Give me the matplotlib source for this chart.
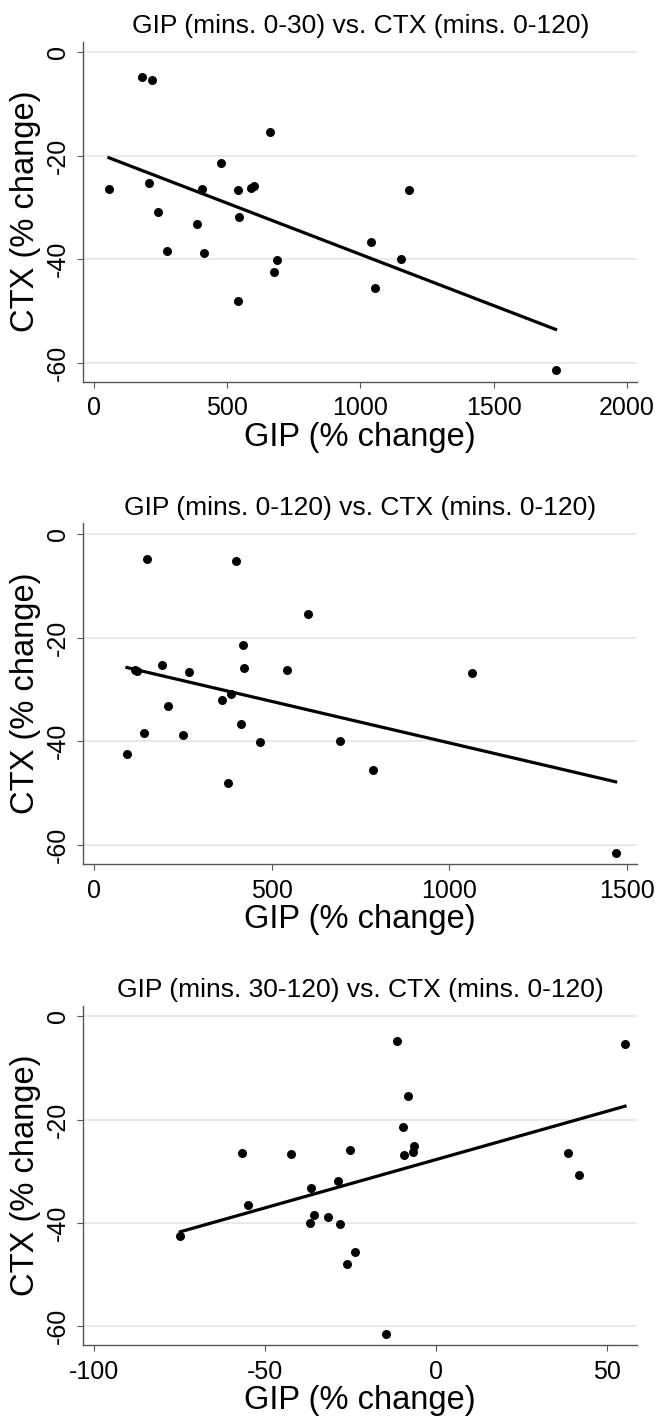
import numpy as np
import matplotlib
matplotlib.use("Agg")
import matplotlib.pyplot as plt

plt.rcParams['font.family'] = ['Liberation Sans', 'DejaVu Sans']
plt.rcParams['axes.unicode_minus'] = False

# CTX (% change) vs GIP (% change), three GIP windows
gip_0_30 = [55, 179, 218, 207, 239, 272, 384, 403, 413, 475, 540, 544, 541,
            587, 600, 661, 674, 687, 1040, 1055, 1153, 1184, 1733]
ctx_a = [-26.4, -4.8, -5.3, -25.3, -30.8, -38.5, -33.2, -26.4, -38.8, -21.4,
         -26.6, -31.9, -48.0, -26.3, -25.9, -15.4, -42.4, -40.2, -36.6, -45.5,
         -39.9, -26.7, -61.5]

gip_0_120 = [149, 398, 601, 419, 190, 114, 120, 268, 423, 542, 1065, 384, 360,
             208, 413, 139, 250, 466, 692, 92, 784, 377, 1469]
ctx_b = [-4.8, -5.3, -15.4, -21.5, -25.2, -26.3, -26.5, -26.6, -25.9, -26.2,
         -26.8, -30.8, -32.0, -33.2, -36.7, -38.5, -38.8, -40.2, -39.9, -42.4,
         -45.6, -48.0, -61.5]

gip_30_120 = [-11.3, 55.4, -8.1, -9.7, -56.7, -42.4, -25.2, -9.4, -6.7, -6.4,
              38.6, 42.0, -28.6, -36.4, -54.9, -35.7, -31.6, -36.8, -28.1,
              -74.8, -23.6, -26.0, -14.6]
ctx_c = [-4.8, -5.4, -15.4, -21.5, -26.5, -26.6, -25.9, -26.8, -26.3, -25.2,
         -26.5, -30.8, -31.9, -33.3, -36.6, -38.5, -38.8, -40.0, -40.3, -42.5,
         -45.6, -48.0, -61.6]

titles = ["GIP (mins. 0-30) vs. CTX (mins. 0-120)",
          "GIP (mins. 0-120) vs. CTX (mins. 0-120)",
          "GIP (mins. 30-120) vs. CTX (mins. 0-120)"]
xticks = [[0, 500, 1000, 1500, 2000], [0, 500, 1000, 1500], [-100, -50, 0, 50]]
xlims = [(-41.3, 2040), (-31, 1530), (-103.2, 59.0)]
yticks = [0, -20, -40, -60]

panels = [(gip_0_30, ctx_a), (gip_0_120, ctx_b), (gip_30_120, ctx_c)]
# axes top/bottom in pixels from the top of the figure
tops = [41.7, 523.3, 1005.7]
bottoms = [381.7, 864.0, 1345.3]

W, H = 658, 1416
fig = plt.figure(figsize=(W / 100, H / 100), dpi=100)

for i, (x, y) in enumerate(panels):
    ax = fig.add_axes([83.3 / W, 1 - bottoms[i] / H, 554 / W, (bottoms[i] - tops[i]) / H])
    x = np.array(x)
    y = np.array(y)

    ax.grid(axis='y', color='#e3e3e3', lw=1.1)
    ax.set_axisbelow(True)
    ax.scatter(x, y, s=42, color='black', linewidths=0, zorder=3)

    # linear fit line
    b, a = np.polyfit(x, y, 1)
    xs = np.array([x.min(), x.max()])
    ax.plot(xs, a + b * xs, color='black', lw=2.3, zorder=4)

    ax.set_xlim(*xlims[i])
    ax.set_ylim(-63.7, 2.05)
    ax.set_xticks(xticks[i])
    ax.set_yticks(yticks)
    ax.tick_params(axis='both', labelsize=18, length=4.5, width=0.8,
                   color='#555555', pad=6)
    ax.tick_params(axis='y', labelrotation=90, pad=5)
    for lab in ax.get_yticklabels():
        lab.set_va('center')

    for s in ['top', 'right']:
        ax.spines[s].set_visible(False)
    for s in ['left', 'bottom']:
        ax.spines[s].set_color('#555555')
        ax.spines[s].set_linewidth(1.0)

    ax.set_title(titles[i], fontsize=19, pad=6)
    ax.set_xlabel("GIP (% change)", fontsize=23.5, labelpad=1)
    ax.set_ylabel("CTX (% change)", fontsize=23.5, labelpad=4)

fig.savefig("out.png", dpi=100)
